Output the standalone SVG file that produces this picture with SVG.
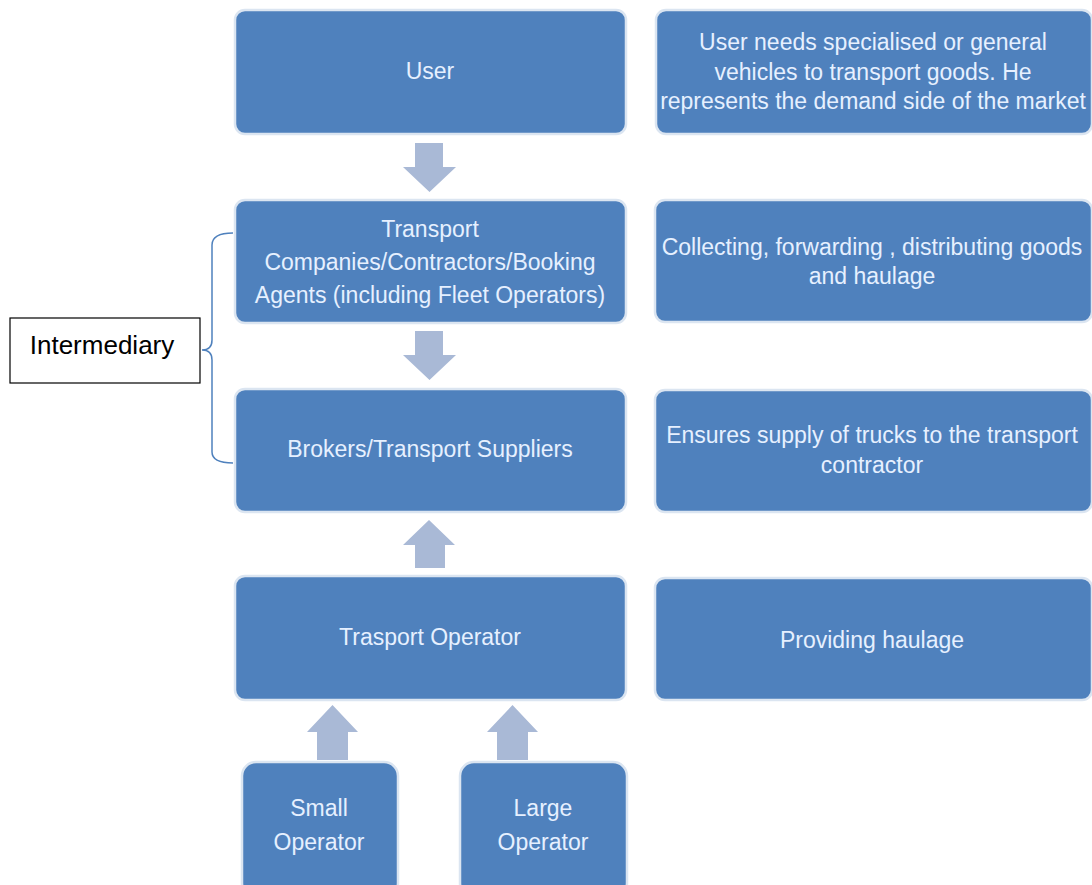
<svg xmlns="http://www.w3.org/2000/svg" width="1092" height="885" viewBox="0 0 1092 885">
<style>
.box{fill:#4f81bd;stroke:#dbe5f1;stroke-width:2.5}
.t{font-family:"Liberation Sans",Arial,sans-serif;font-size:23px;fill:#e6f0ff;text-anchor:middle}
.arr{fill:#a9b9d6}
.lbl{font-family:"Liberation Sans",Arial,sans-serif;font-size:26px;fill:#000;text-anchor:middle}
</style>
<rect width="1092" height="885" fill="#ffffff"/>
<g id="connectors">
<polygon class="arr" points="415,143 443,143 443,167 456,167 429.5,192 403,167 415,167"/>
<polygon class="arr" points="415,331 443,331 443,355 456,355 429.5,380 403,355 415,355"/>
<polygon class="arr" points="415,568 445,568 445,545 455,545 429,520 403,545 415,545"/>
<polygon class="arr" points="317,760 348,760 348,732 358,732 332.5,705 307,732 317,732"/>
<polygon class="arr" points="497,760 528,760 528,732 538,732 512.5,705 487,732 497,732"/>
<path d="M233,233 Q212,233 212,245 L212,340 Q212,350 202,350 Q212,350 212,360 L212,452 Q212,463 233,463" fill="none" stroke="#4f81bd" stroke-width="1.5"/>
</g>
<g id="user"><rect class="box" x="235" y="10" width="391" height="124" rx="10"/><text class="t" x="430" y="79">User</text></g>
<g id="transport"><rect class="box" x="235" y="200" width="391" height="123" rx="10"/>
<text class="t" x="430" y="237">Transport</text><text class="t" x="430" y="270">Companies/Contractors/Booking</text><text class="t" x="430" y="303">Agents (including  Fleet Operators)</text></g>
<g id="brokers"><rect class="box" x="235" y="389" width="391" height="123" rx="10"/><text class="t" x="430" y="457">Brokers/Transport  Suppliers</text></g>
<g id="operator"><rect class="box" x="235" y="576" width="391" height="124" rx="10"/><text class="t" x="430" y="645">Trasport  Operator</text></g>
<g id="small"><rect class="box" x="242" y="762" width="156" height="135" rx="14"/><text class="t" x="319" y="816">Small</text><text class="t" x="319" y="850">Operator</text></g>
<g id="large"><rect class="box" x="460" y="762" width="167" height="135" rx="14"/><text class="t" x="543" y="816">Large</text><text class="t" x="543" y="850">Operator</text></g>
<g id="desc-user"><rect class="box" x="656" y="10" width="436" height="124" rx="10"/>
<text class="t" x="873" y="50">User needs specialised  or general</text><text class="t" x="873" y="80">vehicles to transport goods. He</text><text class="t" x="873" y="109">represents the demand side of the market</text></g>
<g id="desc-transport"><rect class="box" x="655" y="200" width="437" height="122" rx="10"/>
<text class="t" x="872" y="255">Collecting, forwarding , distributing goods</text><text class="t" x="872" y="284">and haulage</text></g>
<g id="desc-brokers"><rect class="box" x="655" y="390" width="437" height="122" rx="10"/>
<text class="t" x="872" y="443">Ensures supply of trucks to the transport</text><text class="t" x="872" y="473">contractor</text></g>
<g id="desc-operator"><rect class="box" x="655" y="578" width="437" height="122" rx="10"/>
<text class="t" x="872" y="648">Providing haulage</text></g>
<g id="intermediary"><rect x="10" y="318" width="190" height="65" fill="#fff" stroke="#000" stroke-width="1.2"/><text class="lbl" x="102" y="354">Intermediary</text></g>
</svg>
